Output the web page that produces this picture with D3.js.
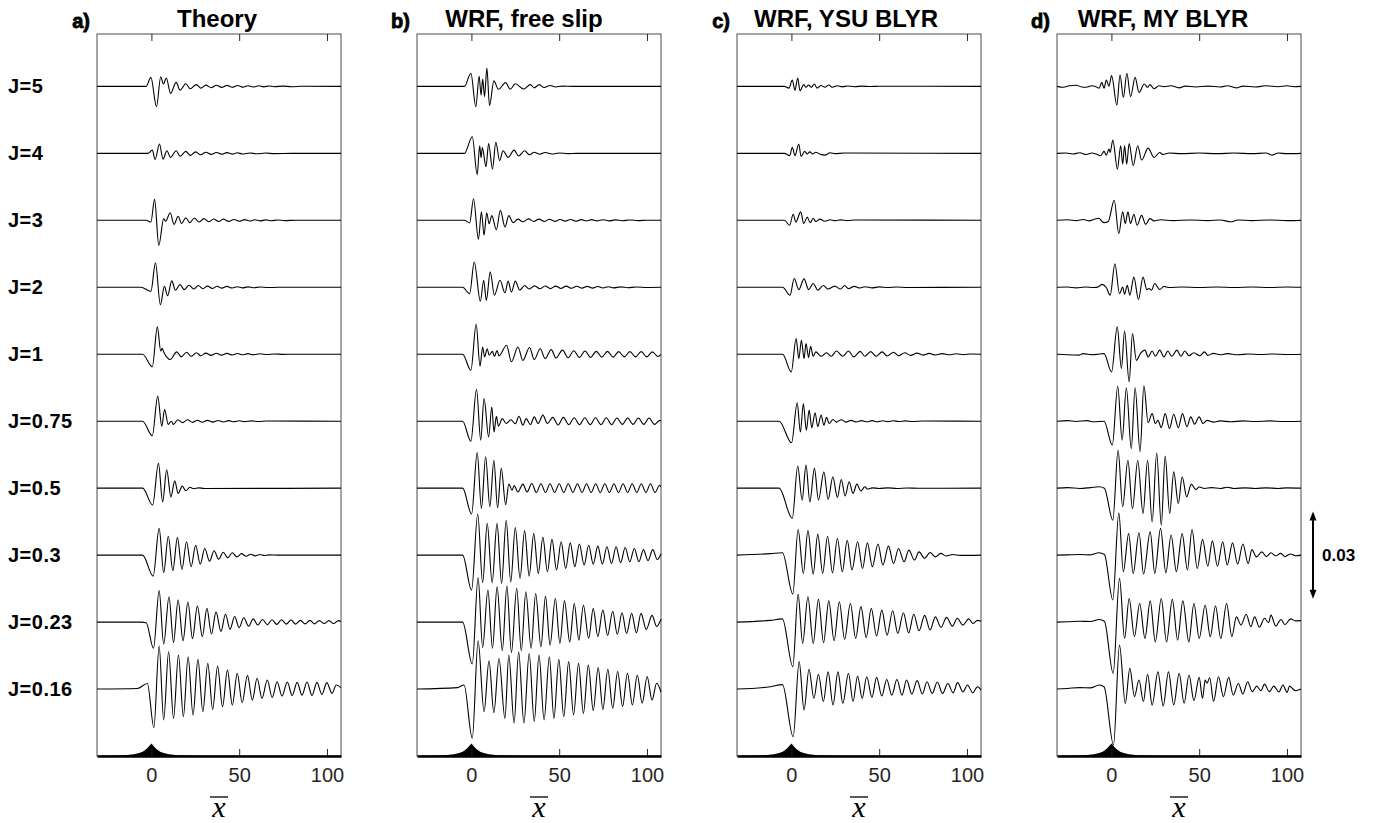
<!DOCTYPE html>
<html><head><meta charset="utf-8">
<script src="https://cdn.jsdelivr.net/npm/d3@7"></script>
<style>body{margin:0;background:#fff;} svg{display:block;}</style>
</head><body><svg id="chart" width="1376" height="823"></svg>
<script>
// ---------------- DATA (x = x̄, y in units of 1e-3, relative to each trace's baseline) ----------------
const jLabels = ["J=5","J=4","J=3","J=2","J=1","J=0.75","J=0.5","J=0.3","J=0.23","J=0.16"];
const panelTitles = ["Theory","WRF, free slip","WRF, YSU BLYR","WRF, MY BLYR"];
const panelLetters = ["a)","b)","c)","d)"];
const xTicks = [0,50,100];
const xTickLabels = ["0","50","100"];
const traceSpacing = 23;      // vertical offset between traces (1e-3 units)
const scaleBarValue = 30;     // 0.03
const scaleBarLabel = "0.03";
const scaleBarFrom = 54;      // bottom of scale bar (1e-3 units above ground)

const topo = [[-31,0],[-20,0.15],[-15,0.3],[-10,0.6],[-7,1.0],[-5,1.5],[-3,2.3],[-2,2.9],[-1,3.6],[0,4.3],[1,3.6],[2,2.9],[3,2.3],[5,1.5],[7,1.0],[10,0.6],[15,0.3],[20,0.15],[30,0],[108,0]];

// a) Theory
const a_J5 = [[-31,0],[-3,0],[-0.3,3.1],[2.9,-7.0],[5.3,3.3],[6.8,0.8],[8.5,2.9],[10.9,-2.4],[14.1,1.4],[16.3,-1.3],[19.6,0.9],[22.1,-0.8],[25.6,0.6],[28.2,-0.6],[31,0.45],[34,-0.45],[37,0.4],[40,-0.35],[43,0.35],[46,-0.3],[49,0.3],[52,-0.25],[55,0.25],[58,-0.2],[61,0.2],[64,-0.15],[67,0.15],[70,-0.1],[75,0.1],[80,-0.1],[85,0.05],[108,0]];
const a_J4 = [[-31,0],[-2,0],[0.5,1.1],[2.1,-2.1],[4.6,3.2],[6.6,-2.0],[8.8,0.9],[10.9,-1.4],[14.1,0.9],[16.3,-1.0],[19.6,0.7],[22.1,-0.7],[25.2,0.5],[28.0,-0.5],[31,0.4],[34,-0.35],[37,0.3],[40,-0.3],[43,0.25],[46,-0.25],[49,0.2],[52,-0.2],[56,0.15],[60,-0.15],[65,0.1],[70,-0.1],[80,0],[108,0]];
const a_J3 = [[-31,0],[-3,0],[-0.3,-0.6],[1.8,7.2],[4.2,-8.6],[7.0,0.6],[8.1,-0.3],[10.7,2.6],[12.9,-1.4],[15.2,1.4],[17.2,-1.1],[19.6,0.9],[21.9,-0.8],[24.5,0.8],[27.1,-0.6],[29.9,0.6],[32.7,-0.5],[35.5,0.45],[38.3,-0.4],[41,0.4],[44,-0.35],[47,0.3],[50,-0.3],[53,0.25],[56,-0.25],[59,0.2],[62,-0.2],[65,0.15],[68,-0.15],[72,0.1],[76,-0.1],[82,0.05],[108,0]];
const a_J2 = [[-31,0],[-6,0],[-0.3,-1.4],[2.3,8.4],[5.1,-6.0],[7.4,0.3],[9.2,-2.9],[11.6,2.2],[13.7,-1.0],[16.3,0.9],[18.7,-0.8],[21.5,0.7],[24.1,-0.6],[26.7,0.6],[29.3,-0.5],[32,0.4],[34.7,-0.4],[37.4,0.35],[40.1,-0.3],[43,0.3],[46,-0.25],[49,0.2],[52,-0.2],[55,0.15],[58,-0.15],[62,0.1],[66,-0.1],[72,0],[108,0]];
const a_J1 = [[-31,0],[-5,0],[0.5,-4.3],[3.4,9.4],[5.3,1.1],[6.1,2.0],[7.0,0.8],[10.7,-1.8],[14.4,0.8],[17.0,-0.9],[20.0,0.7],[22.6,-0.7],[25.6,0.5],[28.2,-0.5],[31,0.4],[34,-0.4],[37,0.35],[40,-0.3],[43,0.3],[46,-0.25],[49,0.25],[52,-0.2],[55,0.2],[58,-0.15],[62,0.15],[66,-0.1],[70,0.1],[75,-0.05],[80,0],[108,0]];
const a_J075 = [[-31,0],[-5,0],[0.5,-5.0],[3.6,8.6],[5.9,-1.7],[7.5,4.0],[9.6,-1.1],[11.3,0],[12.6,-1.1],[15.0,0.5],[17.8,-0.5],[20.6,0.5],[23.4,-0.4],[26.2,0.35],[29,-0.35],[32,0.3],[35,-0.3],[38,0.25],[41,-0.25],[44,0.2],[47,-0.2],[50,0.15],[53,-0.15],[57,0.1],[61,-0.1],[66,0.05],[108,0]];
const a_J05 = [[-31,0],[-5,0],[0.7,-5.8],[4.0,8.5],[6.4,-4.7],[8.7,6.3],[11.1,-3.0],[13.3,2.5],[15.2,-1.8],[17.6,0.7],[19.6,-0.9],[21.9,0.3],[24,-0.2],[27,0.1],[30,-0.1],[108,0]];
const a_J03 = [[-31,0],[-5,0],[1.0,-7.2],[4.4,9.2],[7.0,-6.0],[9.6,6.5],[12.2,-5.3],[14.8,6.0],[17.4,-4.9],[20.0,4.6],[22.6,-4.0],[25.2,3.4],[27.8,-3.1],[30.4,2.3],[33.1,-2.1],[35.7,1.5],[38.3,-1.4],[40.9,1.0],[43.5,-0.9],[46.1,0.8],[48.7,-0.6],[51.3,0.5],[53.9,-0.4],[56.5,0.3],[59.1,-0.25],[61.7,0.2],[64.3,-0.15],[67,0.1],[72,0],[108,0]];
const a_J023 = [[-31,0],[-6,0],[-3,-0.2],[1.2,-9.0],[4.4,10.8],[7.0,-7.6],[10.0,8.7],[12.6,-7.0],[15.2,7.6],[18.0,-6.4],[20.8,6.9],[23.4,-5.7],[26.2,5.5],[29.0,-5.0],[31.6,4.7],[34.2,-4.1],[36.8,3.5],[39.6,-3.2],[42.2,2.7],[44.8,-2.5],[47.4,1.9],[50.0,-1.9],[52.6,1.5],[55.4,-1.4],[58.0,1.1],[60.6,-1.0],[63.3,0.9],[66.0,-0.9],[68.7,0.8],[71.4,-0.8],[74.1,0.8],[76.8,-0.7],[79.5,0.7],[82.2,-0.7],[84.9,0.6],[87.6,-0.6],[90.3,0.6],[93.0,-0.6],[95.7,0.5],[98.4,-0.5],[101.1,0.5],[103.8,-0.5],[106.5,0.5],[108,0.2]];
const a_J016 = [[-31,0],[-8,0.2],[-2.3,1.9],[1.4,-13.2],[4.4,14.8],[7.0,-10.6],[9.8,12.8],[12.6,-10.1],[15.4,11.7],[18.2,-9.5],[20.9,11.1],[23.7,-8.9],[26.5,10.2],[29.3,-7.8],[32.1,8.8],[34.9,-7.0],[37.7,7.9],[40.5,-6.1],[43.3,6.5],[46.1,-5.5],[48.9,5.4],[51.7,-4.7],[54.7,4.7],[57.5,-3.8],[60.2,3.7],[63.0,-3.2],[66.0,3.1],[68.8,-2.9],[71.6,2.5],[74.4,-2.4],[77.4,2.4],[80.2,-2.2],[83.0,2.3],[85.8,-2.1],[88.6,2.4],[91.5,-2.2],[94.3,2.3],[97.1,-1.9],[99.9,2.2],[102.9,-1.5],[105.3,1.4],[108,0.5]];

// b) WRF, free slip
const b_J5 = [[-31,0],[-4,0],[-0.3,4.5],[2.5,-7.0],[4.4,3.5],[5.5,-3.0],[6.4,2.5],[7.5,-3.5],[8.8,6.3],[10.3,-6.6],[12.8,1.9],[15.4,-1.0],[19.5,1.3],[22.1,-1.0],[25.0,0.9],[29.7,-0.9],[33.6,0.6],[35.8,-0.5],[38.6,0.6],[41.4,-0.4],[44.8,0.3],[48,-0.2],[52,0.1],[58,0],[108,0]];
const b_J4 = [[-31,0],[-4,0],[0.5,5.7],[3.3,-7.3],[4.7,2.6],[5.5,-1.5],[6.2,2.0],[8.3,-4.6],[9.8,3.4],[12.0,-5.4],[13.9,3.8],[16.1,-2.5],[18.0,0.9],[20.9,-1.4],[24.3,1.1],[26.9,-0.9],[30.3,0.9],[33.1,-0.5],[35.8,0.4],[39,-0.3],[42,0.3],[46,-0.2],[50,0.15],[55,-0.1],[60,0],[108,0]];
const b_J3 = [[-31,0],[-4,0],[-1.0,-0.9],[1.2,7.4],[4.0,-6.5],[5.7,2.9],[7.2,-5.1],[8.7,2.6],[10.1,-1.2],[11.6,1.6],[14.2,-3.2],[16.5,3.4],[19.1,-2.3],[21.3,1.6],[23.7,-0.8],[26.5,0.4],[29.3,-0.5],[32.5,0.5],[35.5,-0.4],[38.5,0.4],[41.5,-0.4],[44.5,0.35],[47.5,-0.35],[50.5,0.3],[53.5,-0.3],[56.5,0.3],[59.5,-0.3],[62.5,0.25],[65.5,-0.25],[68.5,0.25],[71.5,-0.2],[75,0.2],[78.5,-0.2],[82,0.15],[86,-0.15],[90,0.1],[95,-0.1],[100,0.05],[108,0]];
const b_J2 = [[-31,0],[-5,0],[-1.0,-2.2],[1.6,8.7],[5.1,-4.8],[7.0,2.4],[8.5,-4.5],[10.7,5.3],[13.1,-2.7],[16.3,2.4],[19.1,-1.9],[20.9,2.1],[22.8,-1.6],[25.0,2.1],[27.5,-1.0],[30.3,0.6],[33,-0.6],[36,0.5],[39,-0.5],[42,0.45],[45,-0.45],[48,0.4],[51,-0.4],[54,0.4],[57,-0.35],[60,0.35],[63,-0.3],[66,0.3],[69,-0.3],[72,0.25],[75,-0.25],[78,0.2],[81,-0.2],[85,0.15],[89,-0.15],[94,0.1],[100,-0.05],[108,0]];
const b_J1 = [[-31,0],[-5,0],[-0.3,-5.5],[2.7,10.3],[4.9,-4.1],[6.4,2.5],[7.5,-0.9],[9.0,1.9],[10.1,-0.3],[12.0,1.0],[13.1,-0.8],[14.6,1.3],[15.7,-0.6],[20.0,3.1],[22.8,-2.6],[26.5,2.5],[29.3,-2.1],[33.1,2.3],[35.8,-1.8],[39.2,1.9],[42.0,-1.5],[45.5,1.6],[48.2,-1.3],[51.9,1.4],[55.1,-1.2],[58.3,1.2],[61.5,-1.1],[64.7,1.1],[67.9,-1.1],[71.1,1.0],[74.3,-1.0],[77.5,1.0],[80.7,-1.0],[83.9,0.9],[87.1,-0.9],[90.3,0.9],[93.5,-0.9],[96.7,0.9],[99.9,-0.9],[103.1,0.8],[106.3,-0.8],[108,0]];
const b_J075 = [[-31,0],[-5,0],[-0.3,-6.9],[2.9,11.0],[5.3,-6.5],[7.2,7.8],[9.8,-5.4],[11.6,4.9],[12.9,-3.7],[14.2,1.7],[15.4,-1.7],[17.6,0.9],[19.8,-0.8],[22.5,0.5],[25.0,-0.9],[27.1,1.7],[29.3,-1.4],[31.2,0.9],[33.6,-1.2],[35.8,1.5],[38.0,-0.8],[40.7,2.1],[43.3,-0.8],[46.3,1.3],[49.4,-1.3],[52.4,1.3],[55.5,-1.2],[58.5,1.2],[61.6,-1.2],[64.6,1.2],[67.7,-1.2],[70.7,1.2],[73.8,-1.2],[76.8,1.2],[79.9,-1.2],[82.9,1.1],[86.0,-1.1],[89.0,1.1],[92.1,-1.1],[95.1,1.1],[98.2,-1.1],[101.2,1.1],[104.3,-1.1],[107.3,0.3],[108,0]];
const b_J05 = [[-31,0],[-5,0],[0.1,-8.9],[3.3,12.2],[5.7,-7.0],[8.1,10.8],[10.5,-6.4],[12.8,9.6],[14.9,-6.8],[17.0,6.8],[19.5,-5.7],[21.3,1.4],[23.2,-0.7],[24.3,0.9],[26.5,-1.3],[29.3,1.4],[31.7,-1.3],[34.4,1.6],[37.0,-1.5],[39.6,1.5],[42.2,-1.5],[44.8,1.5],[47.4,-1.5],[50.0,1.5],[52.6,-1.5],[55.2,1.5],[57.8,-1.5],[60.4,1.5],[63.0,-1.5],[65.6,1.5],[68.2,-1.5],[70.8,1.5],[73.4,-1.5],[76.0,1.5],[78.6,-1.5],[81.2,1.5],[83.8,-1.5],[86.4,1.5],[89.0,-1.5],[91.6,1.5],[94.2,-1.5],[96.8,1.5],[99.4,-1.5],[102.0,1.5],[104.6,-1.5],[107.2,1.0],[108,0.5]];
const b_J03 = [[-31,0],[-5,0],[0.1,-12.0],[3.6,14.1],[6.4,-9.5],[9.0,10.9],[11.8,-9.5],[14.6,10.9],[17.2,-9.7],[19.8,12.0],[22.4,-9.2],[25.0,9.5],[27.7,-8.0],[30.3,8.4],[32.9,-7.2],[35.5,7.4],[38.1,-6.3],[40.7,6.1],[43.3,-5.7],[45.9,5.4],[48.5,-5.1],[51.1,4.6],[53.7,-4.6],[56.3,4.2],[58.9,-4.0],[61.5,3.8],[64.2,-3.4],[66.8,3.4],[69.4,-3.1],[72.0,3.1],[74.6,-3.1],[77.2,2.9],[79.8,-2.9],[82.4,2.9],[85.0,-2.6],[87.6,2.6],[90.2,-2.3],[92.8,2.3],[95.4,-2.3],[98.0,1.9],[100.6,-1.9],[103.3,1.9],[105.9,-1.5],[108,0.5]];
const b_J023 = [[-31,0],[-5,0],[0.5,-14.4],[3.8,15.3],[6.4,-8.7],[9.4,11.0],[12.0,-9.0],[14.6,12.1],[17.6,-9.8],[20.2,12.4],[22.8,-10.5],[25.8,11.6],[28.4,-9.8],[31.0,10.4],[34.0,-9.0],[36.6,9.8],[39.6,-8.5],[42.2,8.9],[44.8,-7.9],[47.8,8.1],[50.4,-7.3],[53.0,7.3],[56.0,-6.8],[58.6,6.4],[61.2,-6.2],[63.8,5.8],[66.8,-5.6],[69.4,4.7],[72.0,-5.0],[74.9,4.1],[77.6,-4.6],[80.5,3.7],[83.1,-4.2],[85.8,3.2],[88.4,-3.9],[91.3,3.0],[94.0,-3.7],[96.6,3.0],[99.6,-2.5],[102.9,2.3],[105.5,-1.5],[108,1.0]];
const b_J016 = [[-31,0],[-8,0.5],[-4.2,1.4],[0.5,-16.9],[3.8,16.6],[7.2,-7.8],[10.0,9.7],[12.8,-8.1],[15.7,10.5],[19.1,-10.1],[21.3,11.7],[24.3,-11.7],[26.9,12.8],[29.9,-11.7],[32.9,12.2],[35.8,-11.2],[38.5,11.7],[41.4,-10.6],[44.4,11.1],[47.0,-10.1],[49.8,10.2],[52.6,-9.5],[55.4,9.4],[58.2,-8.9],[61.0,8.8],[63.8,-8.4],[66.6,8.2],[69.4,-7.4],[72.2,7.4],[74.9,-7.0],[77.7,6.8],[80.5,-6.6],[83.3,6.0],[86.1,-6.0],[88.9,5.4],[91.7,-5.5],[94.5,4.8],[97.3,-4.9],[100.1,4.3],[102.9,-3.8],[105.5,2.0],[108,-1.0]];

// c) WRF, YSU BLYR
const c_J5 = [[-31,0],[-4,0],[-1.4,-0.6],[0.5,2.2],[2.0,-1.3],[3.6,2.9],[4.9,-1.5],[7.0,0.6],[8.3,-0.3],[9.8,0.5],[11.3,-0.3],[13.1,0.8],[14.6,-0.6],[16.9,0.3],[19.1,-0.3],[21.3,0.5],[23.2,-0.3],[26,0.2],[29,-0.15],[32,0.15],[36,-0.1],[40,0.1],[45,-0.05],[50,0.05],[108,0]];
const c_J4 = [[-31,0],[-4,0],[-1.0,-0.8],[0.5,2.1],[2.0,-0.8],[4.2,3.2],[5.5,-1.1],[7.5,0.7],[9.0,-0.2],[10.5,0.5],[12.0,-0.2],[13.9,0.4],[16,-0.2],[19.1,-0.6],[22,0.2],[25,-0.1],[30,0.1],[108,0]];
const c_J3 = [[-31,0],[-4,0],[-1.0,-1.7],[1.0,2.1],[2.5,-0.6],[5.3,2.9],[7.0,-1.1],[9.0,1.1],[10.7,-0.8],[12.4,0.7],[13.9,-0.4],[16.3,0.4],[19,-0.3],[22,0.2],[25,-0.15],[28,0.15],[32,-0.1],[36,0.1],[108,0]];
const c_J2 = [[-31,0],[-5,0],[-0.8,-2.7],[1.6,3.0],[4.2,-0.8],[7.2,2.9],[9.8,-0.8],[12.4,1.3],[15.0,-1.0],[18.2,0.6],[20.9,-0.6],[24.7,0.4],[28.0,-0.6],[30.3,0.6],[32.5,-0.5],[35.8,0.3],[39,-0.25],[42,0.2],[46,-0.2],[50,0.15],[55,-0.1],[60,0.1],[66,-0.05],[108,0]];
const c_J1 = [[-31,0],[-5,0],[-0.1,-6.1],[2.7,5.4],[4.2,-1.5],[5.7,4.8],[7.2,-1.5],[8.3,3.7],[9.8,-1.1],[10.9,2.7],[12.4,-0.7],[13.9,0.8],[16.9,-0.7],[20.0,0.5],[22.8,-0.7],[25.6,1.1],[29.3,-0.7],[32.5,1.1],[35.5,-0.9],[39.2,1.0],[41.8,-0.7],[45.2,0.9],[48.2,-0.7],[51.7,0.8],[54.5,-0.6],[58.2,0.7],[61.0,-0.5],[64.5,0.5],[68,-0.4],[71.5,0.4],[75,-0.3],[78.5,0.3],[82,-0.25],[86,0.2],[90,-0.2],[94,0.15],[98,-0.15],[102,0.1],[108,0]];
const c_J075 = [[-31,0],[-7,0],[0.1,-7.4],[3.3,6.3],[5.1,-3.7],[6.8,6.1],[8.5,-3.1],[10.1,3.8],[11.6,-2.2],[13.5,2.9],[15.0,-1.9],[16.9,2.1],[18.5,-1.4],[20.0,1.3],[21.5,-0.8],[23.7,0.6],[25.6,-0.3],[28.4,0.5],[31,-0.3],[34,0.3],[37,-0.25],[40,0.2],[43,-0.2],[46,0.2],[49,-0.2],[52,0.15],[55,-0.15],[58,0.15],[61,-0.1],[65,0.1],[69,-0.1],[75,0.05],[108,0]];
const c_J05 = [[-31,0],[-7,0],[0.5,-10.4],[3.6,7.6],[6.1,-4.1],[8.3,7.9],[10.5,-4.7],[13.1,6.8],[15.4,-4.1],[18.5,5.6],[20.9,-3.9],[23.6,3.9],[26.2,-3.2],[28.4,3.0],[30.6,-2.7],[32.9,2.2],[35.1,-1.8],[37.3,1.4],[39.6,-1.0],[41.8,0.5],[43.3,-0.3],[46,0.1],[50,-0.1],[55,0.1],[60,-0.1],[66,0.05],[72,-0.05],[108,0]];
const c_J03 = [[-31,0],[-12,0.5],[-5.1,0.8],[0.8,-13.4],[3.8,8.8],[6.8,-6.3],[9.4,8.4],[12.4,-6.5],[15.0,7.2],[17.8,-6.3],[20.6,6.5],[23.4,-6.1],[26.2,5.7],[29.0,-5.7],[31.8,5.1],[34.5,-5.1],[37.7,4.6],[40.5,-4.6],[43.3,4.2],[46.1,-4.0],[49.3,3.8],[52.1,-3.4],[55.3,3.1],[58.2,-2.9],[61.0,2.3],[64.2,-2.3],[66.9,1.7],[70.1,-1.7],[72.7,1.1],[75.9,-1.1],[79.0,0.9],[82.0,-0.6],[85.1,0.6],[88.0,-0.3],[92,0.2],[96,-0.1],[108,0]];
const c_J023 = [[-31,0],[-12,0.6],[-5.1,1.1],[0.8,-15.3],[3.8,9.6],[6.4,-7.3],[9.4,8.7],[12.4,-7.3],[15.4,7.8],[18.3,-7.1],[21.3,7.3],[24.3,-6.4],[27.3,7.0],[30.3,-5.9],[33.6,6.4],[36.6,-5.6],[39.6,5.3],[42.6,-5.3],[45.5,4.7],[48.5,-4.8],[51.5,4.1],[54.5,-4.5],[57.7,3.9],[60.6,-3.9],[63.8,3.2],[66.8,-3.7],[69.7,2.7],[72.7,-3.0],[75.9,2.3],[79.0,-2.7],[82.0,1.8],[85.2,-1.8],[88.4,1.6],[91.7,-1.4],[94.5,1.3],[97.7,-1.0],[101.0,1.1],[103.5,-0.5],[106,0.6],[108,0.3]];
const c_J016 = [[-31,0],[-12,0.8],[-5.1,1.5],[1.0,-16.4],[4.4,9.4],[7.2,-7.2],[10.0,6.8],[12.8,-3.2],[15.4,5.1],[18.2,-4.3],[20.9,5.9],[23.7,-5.5],[26.5,5.9],[29.3,-4.9],[32.5,5.4],[35.1,-4.3],[37.7,4.5],[40.3,-3.2],[42.9,4.2],[45.9,-2.9],[48.5,4.0],[51.5,-2.4],[54.3,3.3],[57.2,-2.1],[60.1,3.3],[63.0,-2.1],[65.6,3.1],[68.6,-1.7],[71.6,2.9],[74.6,-1.7],[77.2,2.5],[80.2,-1.5],[83.1,2.4],[86.1,-1.5],[89.1,1.9],[92.1,-1.3],[94.7,2.2],[97.7,-1.0],[100.3,1.4],[103.3,-1.3],[106,0.8],[108,-0.3]];

// d) WRF, MY BLYR
const d_J5 = [[-31,0],[-27.5,-0.3],[-24,0.2],[-20,0.4],[-17,-0.2],[-14.4,-0.3],[-11,0.2],[-8.8,-0.1],[-7.0,-0.6],[-5.5,1.4],[-4.2,-0.6],[-2.9,2.2],[-1.4,0.1],[0.1,3.7],[3.1,-6.4],[4.9,4.0],[6.8,-3.8],[8.8,4.5],[10.9,-3.5],[13.5,3.1],[15.7,-2.1],[18.7,0.8],[20.6,-0.3],[21.9,0.6],[24.3,-0.8],[27,0.2],[30,-0.1],[34,0.2],[38.6,-0.5],[42,0.1],[48,-0.2],[55,0.1],[62,-0.2],[66,0.2],[71.2,-0.5],[75,0.1],[82,-0.2],[88,0.2],[95,-0.1],[100,0.2],[104,-0.1],[108,0]];
const d_J4 = [[-31,0],[-26,0.1],[-22,-0.2],[-18,0.2],[-14.4,-0.4],[-11,0.1],[-8.8,-0.2],[-6.1,-0.8],[-4.2,0.7],[-2.9,-0.6],[-1.4,1.5],[-0.7,0.3],[0.8,4.6],[3.4,-5.4],[5.3,2.6],[6.4,-3.7],[7.5,2.6],[8.7,-3.7],[10.1,3.4],[12.4,-4.2],[15.0,2.6],[17.2,-2.3],[20.9,1.8],[24.3,-1.4],[27.5,0.3],[29.3,-0.4],[33,0.1],[40,-0.1],[50,0.1],[60,-0.1],[70,0.1],[80,-0.1],[88,0.1],[91.7,-0.6],[95,0.1],[100,-0.1],[108,0]];
const d_J3 = [[-31,0],[-25,0.2],[-20,-0.1],[-16,0.3],[-12.6,-0.2],[-10,0.3],[-7.0,0.7],[-5.5,-0.3],[-4.2,-0.8],[-1.8,-0.4],[1.6,6.9],[4.2,-4.6],[6.4,2.9],[7.9,-1.1],[9.4,2.9],[10.9,-1.1],[12.8,2.1],[14.6,-1.7],[17.2,1.7],[19.5,-1.4],[21.9,0.6],[24.3,-0.2],[28,0.2],[35,-0.1],[45,0.1],[55,-0.1],[62,0.1],[68,-0.5],[72,0.1],[80,-0.1],[90,0.1],[100,-0.1],[108,0]];
const d_J2 = [[-31,0],[-25,0.1],[-20,-0.2],[-15,0.1],[-10,-0.1],[-7,0.3],[-5.5,1.0],[-3,0],[-0.7,-2.7],[2.0,8.1],[4.6,-2.2],[6.4,0.1],[7.5,-2.4],[9.0,0.7],[10.5,-2.7],[12.8,3.5],[15.4,-4.2],[18.0,3.5],[20.2,-0.8],[21.5,-0.4],[22.8,-1.0],[24.7,1.3],[27.5,-0.8],[29.9,0.3],[33,-0.1],[40,0.1],[50,-0.1],[60,0.1],[70,-0.1],[80,0.1],[90,-0.1],[100,0.1],[108,0]];
const d_J1 = [[-31,0],[-25,-0.2],[-18.2,-0.3],[-16.3,0.2],[-12,-0.1],[-10.7,-0.2],[-7,0.1],[-4.2,0.2],[0.1,-6.1],[3.3,9.4],[5.7,-4.9],[7.5,8.0],[10.1,-9.5],[12.0,7.1],[14.2,-2.1],[16.5,0.2],[19.1,1.4],[20.9,-0.9],[23.2,1.1],[25.0,-0.7],[27.5,1.4],[29.9,-0.9],[32.1,1.1],[34.4,-0.7],[37.3,1.4],[39.6,-0.7],[41.8,1.1],[44.2,-0.5],[47.0,0.5],[50.4,-0.5],[53,0.8],[55,-0.4],[58,0.3],[62,-0.2],[66,0.2],[72,-0.2],[78,0.1],[85,-0.1],[92,0.1],[100,-0.1],[108,0]];
const d_J075 = [[-31,0],[-25,0.2],[-20,-0.1],[-14,0.2],[-10,-0.2],[-4.2,0],[0.5,-8.2],[3.6,12.0],[6.1,-6.5],[8.5,11.5],[11.3,-9.4],[13.5,11.5],[16.3,-10.5],[18.5,12.2],[20.9,-0.5],[23.2,2.6],[25.0,-0.8],[26.5,0.3],[28.4,-2.2],[30.6,2.6],[33.1,-2.5],[35.5,2.4],[38.1,-2.2],[40.5,2.6],[43.0,-1.9],[45.2,1.5],[47.4,-1.0],[50.0,1.5],[52.2,-0.8],[54.5,0.3],[58.2,-0.3],[62,0.1],[68,-0.2],[75,0.1],[82,-0.1],[90,0.1],[98,-0.1],[108,0]];
const d_J05 = [[-31,0],[-25,0.2],[-18,-0.1],[-12,0.2],[-7.0,0.5],[-4,0],[0.8,-11.0],[3.8,13.0],[6.4,-6.4],[9.4,9.6],[12.0,-7.0],[15.0,9.6],[18.0,-8.7],[20.6,9.6],[23.2,-11.6],[25.8,12.1],[28.4,-12.7],[30.6,11.0],[33.2,-8.7],[35.5,5.6],[38.1,-5.3],[40.3,3.9],[42.9,-3.0],[45.5,1.4],[48.0,-0.5],[50.0,0.4],[53,-0.1],[57,0.2],[62,-0.1],[66,0.3],[70,-0.1],[76,0.1],[82,-0.1],[88,0.1],[95,-0.1],[100,0.1],[108,0]];
const d_J03 = [[-31,0],[-25,0.1],[-18,0.2],[-12,0.1],[-7.0,0.8],[-4,0.2],[0.8,-15.4],[4.2,14.5],[6.8,-5.7],[9.8,7.4],[12.4,-6.3],[15.7,7.7],[18.3,-6.5],[22.1,8.0],[24.7,-6.3],[28.0,9.2],[31.0,-6.1],[34.0,6.9],[37.0,-5.7],[40.3,7.4],[43.3,-5.1],[45.9,8.8],[48.9,-4.6],[51.9,5.4],[54.9,-3.8],[57.5,4.9],[60.4,-3.8],[63.4,4.6],[66.0,-3.4],[69.0,4.2],[71.9,-3.1],[74.9,3.8],[77.9,-2.9],[80.0,1.9],[82.6,-0.6],[85.7,1.1],[88.3,-0.5],[90.9,0.8],[93.6,-0.3],[96.4,0.6],[98.8,-0.5],[102.0,0.4],[104.8,-0.2],[108,0]];
const d_J023 = [[-31,0],[-25,0.1],[-18,0.3],[-12,0.2],[-7.0,0.9],[-4,0.3],[1.0,-17.6],[4.6,15.0],[7.5,-5.6],[10.1,8.1],[13.1,-5.0],[16.1,6.4],[19.1,-5.6],[22.1,7.3],[25.0,-6.8],[28.4,8.1],[31.4,-6.8],[34.7,7.8],[37.7,-6.2],[40.7,7.3],[44.1,-6.8],[47.0,6.4],[50.0,-5.6],[53.4,5.8],[56.3,-5.0],[59.3,5.5],[62.3,-5.6],[65.6,6.4],[68.6,-5.0],[71.2,1.8],[73.8,-1.0],[76.8,2.7],[79.4,-1.6],[81.6,1.8],[84.3,-1.8],[87.2,1.3],[89.5,-0.2],[90.9,2.4],[93.6,-1.4],[96.6,0.9],[98.8,-0.9],[102.1,1.1],[104.8,0.4],[108,0.5]];
const d_J016 = [[-31,0],[-25,0.2],[-18,0.5],[-12,0.4],[-7.0,1.4],[-4.2,0.8],[1.2,-19.2],[4.6,15.1],[7.9,-4.9],[10.5,7.1],[13.1,-2.6],[15.7,3.1],[18.2,-4.3],[20.6,5.1],[23.2,-5.5],[26.5,5.9],[29.5,-5.8],[32.5,5.9],[35.5,-5.5],[38.6,5.4],[41.4,-4.9],[44.2,4.8],[47.0,-4.0],[50.0,4.0],[51.9,-3.2],[53.4,3.1],[54.5,2.0],[56.0,3.9],[58.2,-4.3],[61.0,4.2],[63.8,-2.6],[66.8,4.0],[69.4,-2.1],[72.3,1.9],[74.9,-1.7],[77.6,2.5],[80.2,-0.9],[82.8,1.0],[85.2,-0.6],[87.2,1.7],[89.9,-0.9],[92.5,1.0],[95.4,-1.0],[97.7,1.4],[100.1,-1.2],[101.4,1.0],[104.8,-0.6],[108,0]];

const panelTraces = [
  [a_J5,a_J4,a_J3,a_J2,a_J1,a_J075,a_J05,a_J03,a_J023,a_J016],
  [b_J5,b_J4,b_J3,b_J2,b_J1,b_J075,b_J05,b_J03,b_J023,b_J016],
  [c_J5,c_J4,c_J3,c_J2,c_J1,c_J075,c_J05,c_J03,c_J023,c_J016],
  [d_J5,d_J4,d_J3,d_J2,d_J1,d_J075,d_J05,d_J03,d_J023,d_J016]
];

// ---------------- LAYOUT ----------------
const panelLeft = [97,417,737,1057];
const titleCenter = [217,524,846,1163];
const panelW = 244;
const yTop = 34, yBottom = 756;
const xDomain = [-31,108];
const yDomain = [0,248];
const font = "'Liberation Sans', Arial, Helvetica, sans-serif";
const axisColor = "#262626";

const svg = d3.select("#chart");
const y = d3.scaleLinear().domain(yDomain).range([yBottom, yTop]);

panelTraces.forEach((traces, i) => {
  const L = panelLeft[i];
  const x = d3.scaleLinear().domain(xDomain).range([L, L + panelW]);
  const g = svg.append("g");

  // box (left, right, top)
  g.append("rect").attr("x", L).attr("y", yTop).attr("width", panelW).attr("height", yBottom - yTop)
    .attr("fill", "none").attr("stroke", "#4d4d4d").attr("stroke-width", 1);

  // traces
  const line = d3.line().curve(d3.curveMonotoneX);
  traces.forEach((tr, k) => {
    const off = (jLabels.length - k) * traceSpacing;
    line.x(d => x(d[0])).y(d => y(off + d[1]));
    g.append("path").datum(tr).attr("d", line)
      .attr("fill", "none").attr("stroke", "#000").attr("stroke-width", 1.1).attr("stroke-linejoin", "round");
  });

  // topography
  g.append("path").datum(topo)
    .attr("d", d3.area().x(d => x(d[0])).y0(y(0)).y1(d => y(d[1])))
    .attr("fill", "#000");

  // top ticks
  const at = d3.axisTop(x).tickValues(xTicks).tickSizeInner(-7).tickSizeOuter(0).tickFormat("");
  const atg = g.append("g").attr("transform", `translate(0,${yTop})`).call(at);
  atg.select(".domain").remove();
  atg.selectAll(".tick line").attr("stroke", axisColor);

  // bottom axis
  const ab = d3.axisBottom(x).tickValues(xTicks).tickFormat((d, j) => xTickLabels[j])
    .tickSizeInner(-7).tickSizeOuter(0).tickPadding(12);
  const abg = g.append("g").attr("transform", `translate(0,${yBottom})`).call(ab);
  abg.select(".domain").attr("stroke", "#000").attr("stroke-width", 2.5);
  abg.selectAll(".tick line").attr("stroke", axisColor);
  abg.selectAll(".tick text").attr("font-size", 20).attr("font-family", font).attr("fill", axisColor);

  // x label: x with overline
  const cx = L + panelW / 2;
  g.append("text").attr("x", cx).attr("y", 817).attr("text-anchor", "middle")
    .attr("font-family", "'Liberation Serif', 'DejaVu Serif', serif").attr("font-style", "italic")
    .attr("font-size", 30).attr("fill", "#000").text("x");
  g.append("line").attr("x1", cx - 9).attr("x2", cx + 9).attr("y1", 797).attr("y2", 797)
    .attr("stroke", "#000").attr("stroke-width", 1.3);

  // title and letter
  svg.append("text").attr("x", titleCenter[i]).attr("y", 27).attr("text-anchor", "middle")
    .attr("font-family", font).attr("font-weight", "bold").attr("font-size", 24).attr("fill", "#000")
    .text(panelTitles[i]);
  svg.append("text").attr("x", L - 7).attr("y", 28).attr("text-anchor", "end")
    .attr("font-family", font).attr("font-weight", "bold").attr("font-size", 20).attr("fill", "#000")
    .attr("stroke", "#000").attr("stroke-width", 0.8)
    .text(panelLetters[i]);
});

// J labels
jLabels.forEach((lab, k) => {
  const off = (jLabels.length - k) * traceSpacing;
  svg.append("text").attr("x", 8).attr("y", y(off)).attr("dominant-baseline", "central")
    .attr("font-family", font).attr("font-weight", "bold").attr("font-size", 20).attr("fill", "#000")
    .attr("letter-spacing", 0.5)
    .text(lab);
});

// scale bar
const sbx = 1313;
const yA = y(scaleBarFrom + scaleBarValue), yB = y(scaleBarFrom);
svg.append("line").attr("x1", sbx).attr("x2", sbx).attr("y1", yA + 4).attr("y2", yB - 4)
  .attr("stroke", "#000").attr("stroke-width", 2);
svg.append("path").attr("d", `M${sbx},${yA} L${sbx-3.5},${yA+9} L${sbx+3.5},${yA+9} Z`).attr("fill", "#000");
svg.append("path").attr("d", `M${sbx},${yB} L${sbx-3.5},${yB-9} L${sbx+3.5},${yB-9} Z`).attr("fill", "#000");
svg.append("text").attr("x", 1322).attr("y", (yA + yB) / 2).attr("dominant-baseline", "central")
  .attr("font-family", font).attr("font-weight", "bold").attr("font-size", 17).attr("fill", "#000")
  .text(scaleBarLabel);
</script>
</body></html>
